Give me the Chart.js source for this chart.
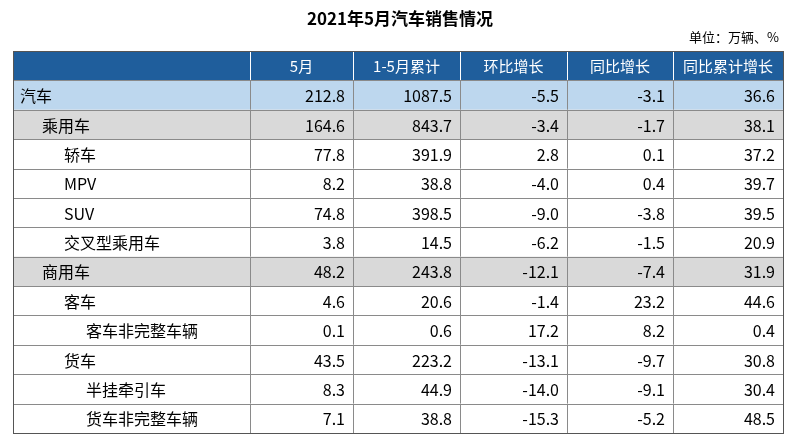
<!DOCTYPE html>
<html><head><meta charset="utf-8">
<script src="https://cdn.jsdelivr.net/npm/chart.js@4/dist/chart.umd.min.js"></script>
<style>body{margin:0;background:#fff}#w{width:807px;height:442px}</style></head>
<body><div id="w"><canvas id="c"></canvas></div>
<script>
const title = "2021年5月汽车销售情况";
const unit = "单位：万辆、%";
const headers = ["", "5月", "1-5月累计", "环比增长", "同比增长", "同比累计增长"];
const rowNames = ["汽车","乘用车","轿车","MPV","SUV","交叉型乘用车","商用车","客车","客车非完整车辆","货车","半挂牵引车","货车非完整车辆"];
const rowLevels = [0,1,2,2,2,2,1,2,3,2,3,3];
const colMay = [212.8,164.6,77.8,8.2,74.8,3.8,48.2,4.6,0.1,43.5,8.3,7.1];
const colCum = [1087.5,843.7,391.9,38.8,398.5,14.5,243.8,20.6,0.6,223.2,44.9,38.8];
const colMoM = [-5.5,-3.4,2.8,-4.0,-9.0,-6.2,-12.1,-1.4,17.2,-13.1,-14.0,-15.3];
const colYoY = [-3.1,-1.7,0.1,0.4,-3.8,-1.5,-7.4,23.2,8.2,-9.7,-9.1,-5.2];
const colCumYoY = [36.6,38.1,37.2,39.7,39.5,20.9,31.9,44.6,0.4,30.8,30.4,48.5];
const colEdges = [0,237,340,447,554,660,770];
const valueCols = [colMay,colCum,colMoM,colYoY,colCumYoY];
const F = "'Noto Sans CJK SC','Noto Sans',sans-serif";
const rowBg = i => i===0 ? "#BDD7EE" : (rowLevels[i]===1 ? "#D9D9D9" : "#FFFFFF");

const tablePlugin = {
  id:'table',
  afterDraw(chart){
    const ctx = chart.ctx, xs = chart.scales.x, ys = chart.scales.y;
    const labels = ys.getLabels();
    const band = (ys.getPixelForValue(1)-ys.getPixelForValue(0));
    const X = colEdges.map(v=>xs.getPixelForValue(v));
    ctx.save();
    ctx.fillStyle="#000"; ctx.font="bold 17px "+F; ctx.textAlign="center"; ctx.textBaseline="middle";
    ctx.fillText(title, 400, 19);
    ctx.font="13px "+F; ctx.textAlign="right"; ctx.fillText(unit, X[6]-4, 37);
    labels.forEach((lab,r)=>{
      const cy = ys.getPixelForValue(r), top = cy-band/2;
      if(r===0){
        ctx.fillStyle="#1F5E9C"; ctx.fillRect(X[0],top,X[6]-X[0],band);
        ctx.fillStyle="#fff"; ctx.font="15px "+F; ctx.textAlign="center";
        headers.forEach((h,c)=>{ if(h) ctx.fillText(h,(X[c]+X[c+1])/2,cy+1); });
        ctx.strokeStyle="#fff"; ctx.lineWidth=1;
        for(let c=1;c<6;c++){ctx.beginPath();ctx.moveTo(X[c]+.5,top);ctx.lineTo(X[c]+.5,top+band);ctx.stroke();}
        return;
      }
      const i=r-1;
      ctx.fillStyle=rowBg(i); ctx.fillRect(X[0],top,X[6]-X[0],band);
      ctx.fillStyle="#000"; ctx.font="16px "+F; ctx.textAlign="left";
      ctx.fillText(lab, X[0]+7+rowLevels[i]*22, cy+1);
      ctx.textAlign="right";
      valueCols.forEach((col,c)=>ctx.fillText(col[i].toFixed(1), X[c+2]-8, cy+1));
      ctx.strokeStyle="#8a8a8a"; ctx.lineWidth=1;
      ctx.beginPath(); ctx.moveTo(X[0],Math.round(top)+.5); ctx.lineTo(X[6],Math.round(top)+.5); ctx.stroke();
      for(let c=1;c<6;c++){ctx.beginPath();ctx.moveTo(X[c]+.5,top);ctx.lineTo(X[c]+.5,top+band);ctx.stroke();}
    });
    const t=ys.getPixelForValue(0)-band/2, b=ys.getPixelForValue(labels.length-1)+band/2;
    ctx.strokeStyle="#555"; ctx.lineWidth=1; ctx.strokeRect(X[0]+.5,Math.round(t)+.5,X[6]-X[0],Math.round(b-t));
    ctx.restore();
  }
};
new Chart(document.getElementById('c'),{
  type:'bar',
  data:{labels:["header",...rowNames],datasets:[{data:[]}]},
  options:{indexAxis:'y',responsive:true,maintainAspectRatio:false,animation:false,
    layout:{padding:{left:13,right:24,top:51,bottom:9}},
    plugins:{legend:{display:false},tooltip:{enabled:false}},
    scales:{x:{type:'linear',min:colEdges[0],max:colEdges[6],offset:false,display:false},
            y:{type:'category',offset:true,display:false}}},
  plugins:[tablePlugin]
});
</script></body></html>
